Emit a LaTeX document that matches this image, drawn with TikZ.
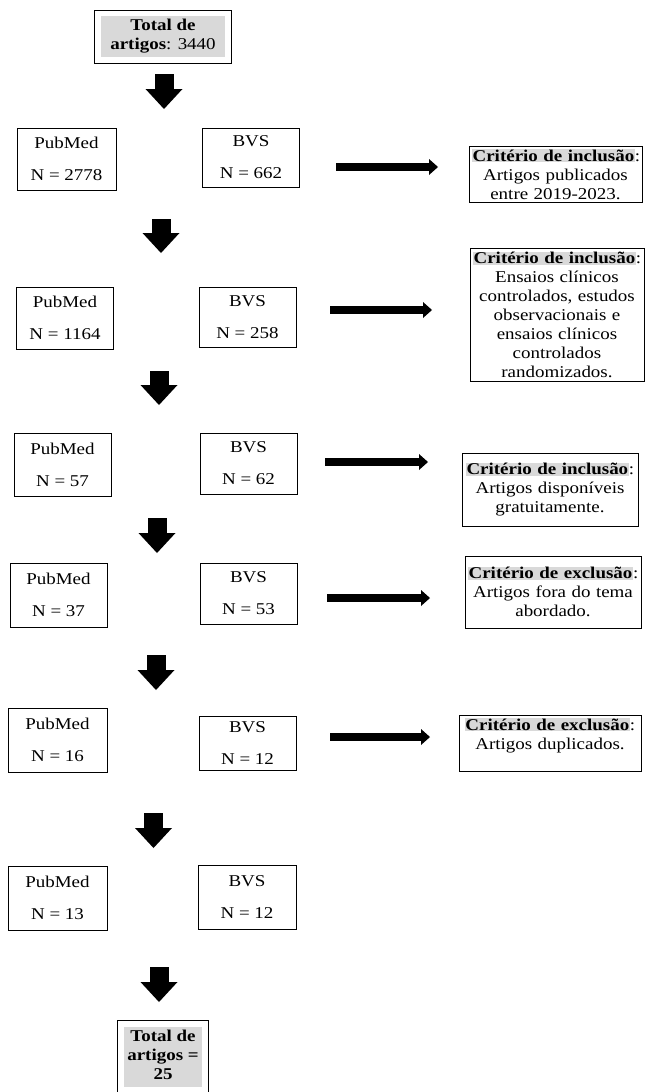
\documentclass[tikz,border=0pt]{standalone}
\usepackage{fontspec}
\setmainfont{Liberation Serif}[FakeStretch=1.15]
\usetikzlibrary{arrows.meta}
\definecolor{hlgray}{HTML}{D9D9D9}
\setlength{\fboxsep}{1.5pt}
\newcommand{\crit}[1]{{\setlength{\fboxsep}{0.6pt}\colorbox{hlgray}{\textbf{#1}}}:}
\tikzset{
  srcbox/.style={draw, line width=0.8pt, align=center, inner sep=0pt, minimum width=97pt, minimum height=62pt},
  critbox/.style={draw, line width=0.8pt, align=center, inner sep=3pt},
  totalbox/.style={draw, line width=0.8pt, inner sep=6pt},
  downarrow/.style={line width=19pt, -{Triangle[width=37pt,length=20pt,line width=0pt]}},
  rightarrow/.style={line width=8pt, -{Triangle[width=16pt,length=9pt,line width=0pt]}},
}

\begin{document}
\begin{tikzpicture}[x=1pt,y=-1pt,font=\fontsize{16.5pt}{19pt}\selectfont]
		\useasboundingbox (0,0) rectangle (654,1092);
		%%%%% START %%%%%
		
		\node[totalbox] (total) at (163,36.5) {\colorbox{hlgray}{\begin{tabular}{@{\hspace{8pt}}c@{\hspace{8pt}}}\textbf{Total de}\\\textbf{artigos}: 3440\end{tabular}}};
		
		\coordinate (d1a) at (164,74);
		\coordinate (d1b) at (164,109);
		\draw[downarrow] (d1a) -- (d1b);
		
		% 1
		\node[srcbox, minimum width=99pt] (pub1) at (66.5,159) {PubMed\\[13pt]N = 2778};
		\node[srcbox, minimum height=59pt] (bvs1) at (251,157.5) {BVS\\[13pt]N = 662};
		\coordinate (r1a) at (336,167);
		\coordinate (r1b) at (438,167);
		\draw[rightarrow] (r1a) -- (r1b);
		\node[critbox, text width=167pt] (crit1) at (555.5,174.5) {\crit{Critério de inclusão}\\Artigos publicados\\entre 2019-2023.};
		
		\coordinate (d2a) at (161,219);
		\coordinate (d2b) at (161,253);
		\draw[downarrow] (d2a) -- (d2b);
		
		% 2
		\node[srcbox] (pub2) at (65,318) {PubMed\\[13pt]N = 1164};
		\node[srcbox, minimum height=60pt] (bvs2) at (247.5,317) {BVS\\[13pt]N = 258};
		\coordinate (r2a) at (330,310);
		\coordinate (r2b) at (432,310);
		\draw[rightarrow] (r2a) -- (r2b);
		\node[critbox, text width=168pt] (crit2) at (557,315) {\crit{Critério de inclusão}\\Ensaios clínicos\\controlados, estudos\\observacionais e\\ensaios clínicos\\controlados\\randomizados.};
		
		\coordinate (d3a) at (159,371);
		\coordinate (d3b) at (159,405);
		\draw[downarrow] (d3a) -- (d3b);
		
		% 3
		\node[srcbox, minimum height=63pt] (pub3) at (62.5,464.5) {PubMed\\[13pt]N = 57};
		\node[srcbox, minimum height=61pt] (bvs3) at (248.5,463.5) {BVS\\[13pt]N = 62};
		\coordinate (r3a) at (325,462);
		\coordinate (r3b) at (428,462);
		\draw[rightarrow] (r3a) -- (r3b);
		\node[critbox, text width=170pt, minimum height=73pt] (crit3) at (550,489.5) {\crit{Critério de inclusão}\\Artigos disponíveis\\gratuitamente.};
		
		\coordinate (d4a) at (157,518);
		\coordinate (d4b) at (157,553);
		\draw[downarrow] (d4a) -- (d4b);
		
		% 4
		\node[srcbox, minimum height=64pt] (pub4) at (58.5,595) {PubMed\\[13pt]N = 37};
		\node[srcbox, minimum height=61pt] (bvs4) at (248.5,593.5) {BVS\\[13pt]N = 53};
		\coordinate (r4a) at (327,598);
		\coordinate (r4b) at (430,598);
		\draw[rightarrow] (r4a) -- (r4b);
		\node[critbox, text width=170pt, minimum height=72pt] (crit4) at (553,592) {\crit{Critério de exclusão}\\Artigos fora do tema\\abordado.};
		
		\coordinate (d5a) at (156,655);
		\coordinate (d5b) at (156,690);
		\draw[downarrow] (d5a) -- (d5b);
		
		% 5
		\node[srcbox, minimum width=99pt, minimum height=64pt] (pub5) at (57.5,740) {PubMed\\[13pt]N = 16};
		\node[srcbox, minimum height=54pt] (bvs5) at (247.5,743) {BVS\\[13pt]N = 12};
		\coordinate (r5a) at (330,737);
		\coordinate (r5b) at (430,737);
		\draw[rightarrow] (r5a) -- (r5b);
		\node[critbox, text width=176pt] (crit5) at (550,743.5) {\crit{Critério de exclusão}\\Artigos duplicados.\\~};
		
		\coordinate (d6a) at (153.5,813);
		\coordinate (d6b) at (153.5,848);
		\draw[downarrow] (d6a) -- (d6b);
		
		% 6
		\node[srcbox, minimum width=99pt, minimum height=64pt] (pub6) at (57.5,898) {PubMed\\[13pt]N = 13};
		\node[srcbox, minimum width=98pt, minimum height=64pt] (bvs6) at (247,897) {BVS\\[13pt]N = 12};
		
		\coordinate (d7a) at (159,967);
		\coordinate (d7b) at (159,1002);
		\draw[downarrow] (d7a) -- (d7b);
		
		\node[totalbox] (final) at (163,1056.5) {\colorbox{hlgray}{\begin{tabular}{@{\hspace{2pt}}c@{\hspace{2pt}}}\textbf{Total de}\\\textbf{artigos =}\\\textbf{25}\end{tabular}}};
		
		%%%%% END %%%%%
\end{tikzpicture}
\end{document}
